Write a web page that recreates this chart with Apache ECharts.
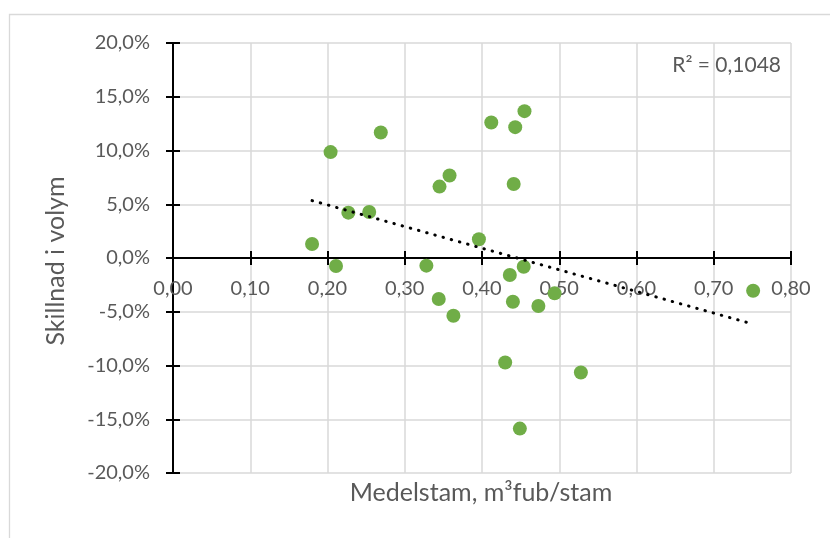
<!DOCTYPE html>
<html>
<head>
<meta charset="utf-8">
<script src="https://cdn.jsdelivr.net/npm/echarts@6/dist/echarts.min.js"></script>
<style>
  html, body { margin: 0; padding: 0; background: #fff; }
  #main { width: 830px; height: 538px; }
</style>
</head>
<body>
<div id="main"></div>
<script>
// medelstam (m3fub/stam) and skillnad i volym (%)
var medelstam = [0.180, 0.204, 0.211, 0.227, 0.254, 0.269, 0.328, 0.344, 0.345, 0.358, 0.363, 0.396, 0.412,
  0.430, 0.436, 0.440, 0.441, 0.443, 0.449, 0.454, 0.455, 0.473, 0.494, 0.528, 0.751];
var skillnad = [1.30, 9.85, -0.75, 4.22, 4.28, 11.67, -0.71, -3.82, 6.64, 7.67, -5.37, 1.74, 12.60,
  -9.72, -1.58, -4.07, 6.89, 12.17, -15.87, -0.81, 13.66, -4.47, -3.29, -10.65, -3.04];

// linear trendline ends as drawn in the picture
var trendX = [0.180, 0.751];
var trendY = [5.34, -6.15];
var rSquared = '0,1048';

var textColor = '#595959';
var fontFam = 'Lato, "Open Sans", sans-serif';

var chartDom = document.getElementById('main');
var myChart = echarts.init(chartDom);

var points = medelstam.map(function (x, i) { return [x, skillnad[i]]; });
var trend = trendX.map(function (x, i) { return [x, trendY[i]]; });

// grid is 430px high, y = 0 sits in the middle -> pull x axis up by half
var xOffset = -215;

// two copies of each axis so the ticks cross the axis line
function xAxisCfg(main) {
  return {
    type: 'value',
    position: 'bottom',
    offset: xOffset,
    min: 0,
    max: 0.8,
    interval: 0.1,
    axisLine: { show: main, onZero: false, lineStyle: { color: '#000', width: 2 } },
    axisTick: { show: true, inside: !main, length: 7, lineStyle: { color: '#000', width: 2 } },
    axisLabel: {
      show: main,
      margin: 21,
      color: textColor,
      fontSize: 20,
      fontFamily: fontFam,
      formatter: function (v) { return v.toFixed(2).replace('.', ','); }
    },
    splitLine: { show: main, lineStyle: { color: '#d9d9d9', width: 1.5 } }
  };
}

function yAxisCfg(main) {
  return {
    type: 'value',
    position: 'left',
    min: -20,
    max: 20,
    interval: 5,
    axisLine: { show: main, onZero: false, lineStyle: { color: '#000', width: 2 } },
    axisTick: { show: true, inside: !main, length: 7, lineStyle: { color: '#000', width: 2 } },
    axisLabel: {
      show: main,
      margin: 23,
      color: textColor,
      fontSize: 20,
      fontFamily: fontFam,
      formatter: function (v) { return v.toFixed(1).replace('.', ',') + '%'; }
    },
    splitLine: { show: main, lineStyle: { color: '#d9d9d9', width: 1.5 } }
  };
}

var option = {
  backgroundColor: '#fff',
  animation: false,
  grid: { left: 173, right: 39, top: 43, bottom: 65 },
  xAxis: [xAxisCfg(true), xAxisCfg(false)],
  yAxis: [yAxisCfg(true), yAxisCfg(false)],
  graphic: [
    {
      type: 'rect',
      shape: { x: 9.5, y: 14.5, width: 900, height: 600 },
      style: { fill: 'none', stroke: '#d9d9d9', lineWidth: 1.3 },
      silent: true
    },
    {
      type: 'text',
      x: 481,
      y: 493,
      style: {
        text: 'Medelstam, m³fub/stam',
        fill: textColor,
        font: '25px ' + fontFam,
        textAlign: 'center',
        textVerticalAlign: 'middle'
      }
    },
    {
      type: 'text',
      x: 56,
      y: 261,
      rotation: Math.PI / 2,
      style: {
        text: 'Skillnad i volym',
        fill: textColor,
        font: '25px ' + fontFam,
        textAlign: 'center',
        textVerticalAlign: 'middle'
      }
    },
    {
      type: 'text',
      x: 781,
      y: 65,
      style: {
        text: 'R² = ' + rSquared,
        fill: textColor,
        font: '21px ' + fontFam,
        textAlign: 'right',
        textVerticalAlign: 'middle'
      }
    }
  ],
  series: [
    {
      name: 'Trend',
      type: 'line',
      data: trend,
      showSymbol: false,
      symbol: 'none',
      silent: true,
      z: 3,
      lineStyle: { color: '#000', width: 3, type: [0.5, 8], cap: 'round' }
    },
    {
      name: 'Skillnad',
      type: 'scatter',
      data: points,
      symbolSize: 14,
      z: 2,
      itemStyle: { color: '#70AD47', opacity: 1 }
    }
  ]
};

option && myChart.setOption(option);
</script>
</body>
</html>
